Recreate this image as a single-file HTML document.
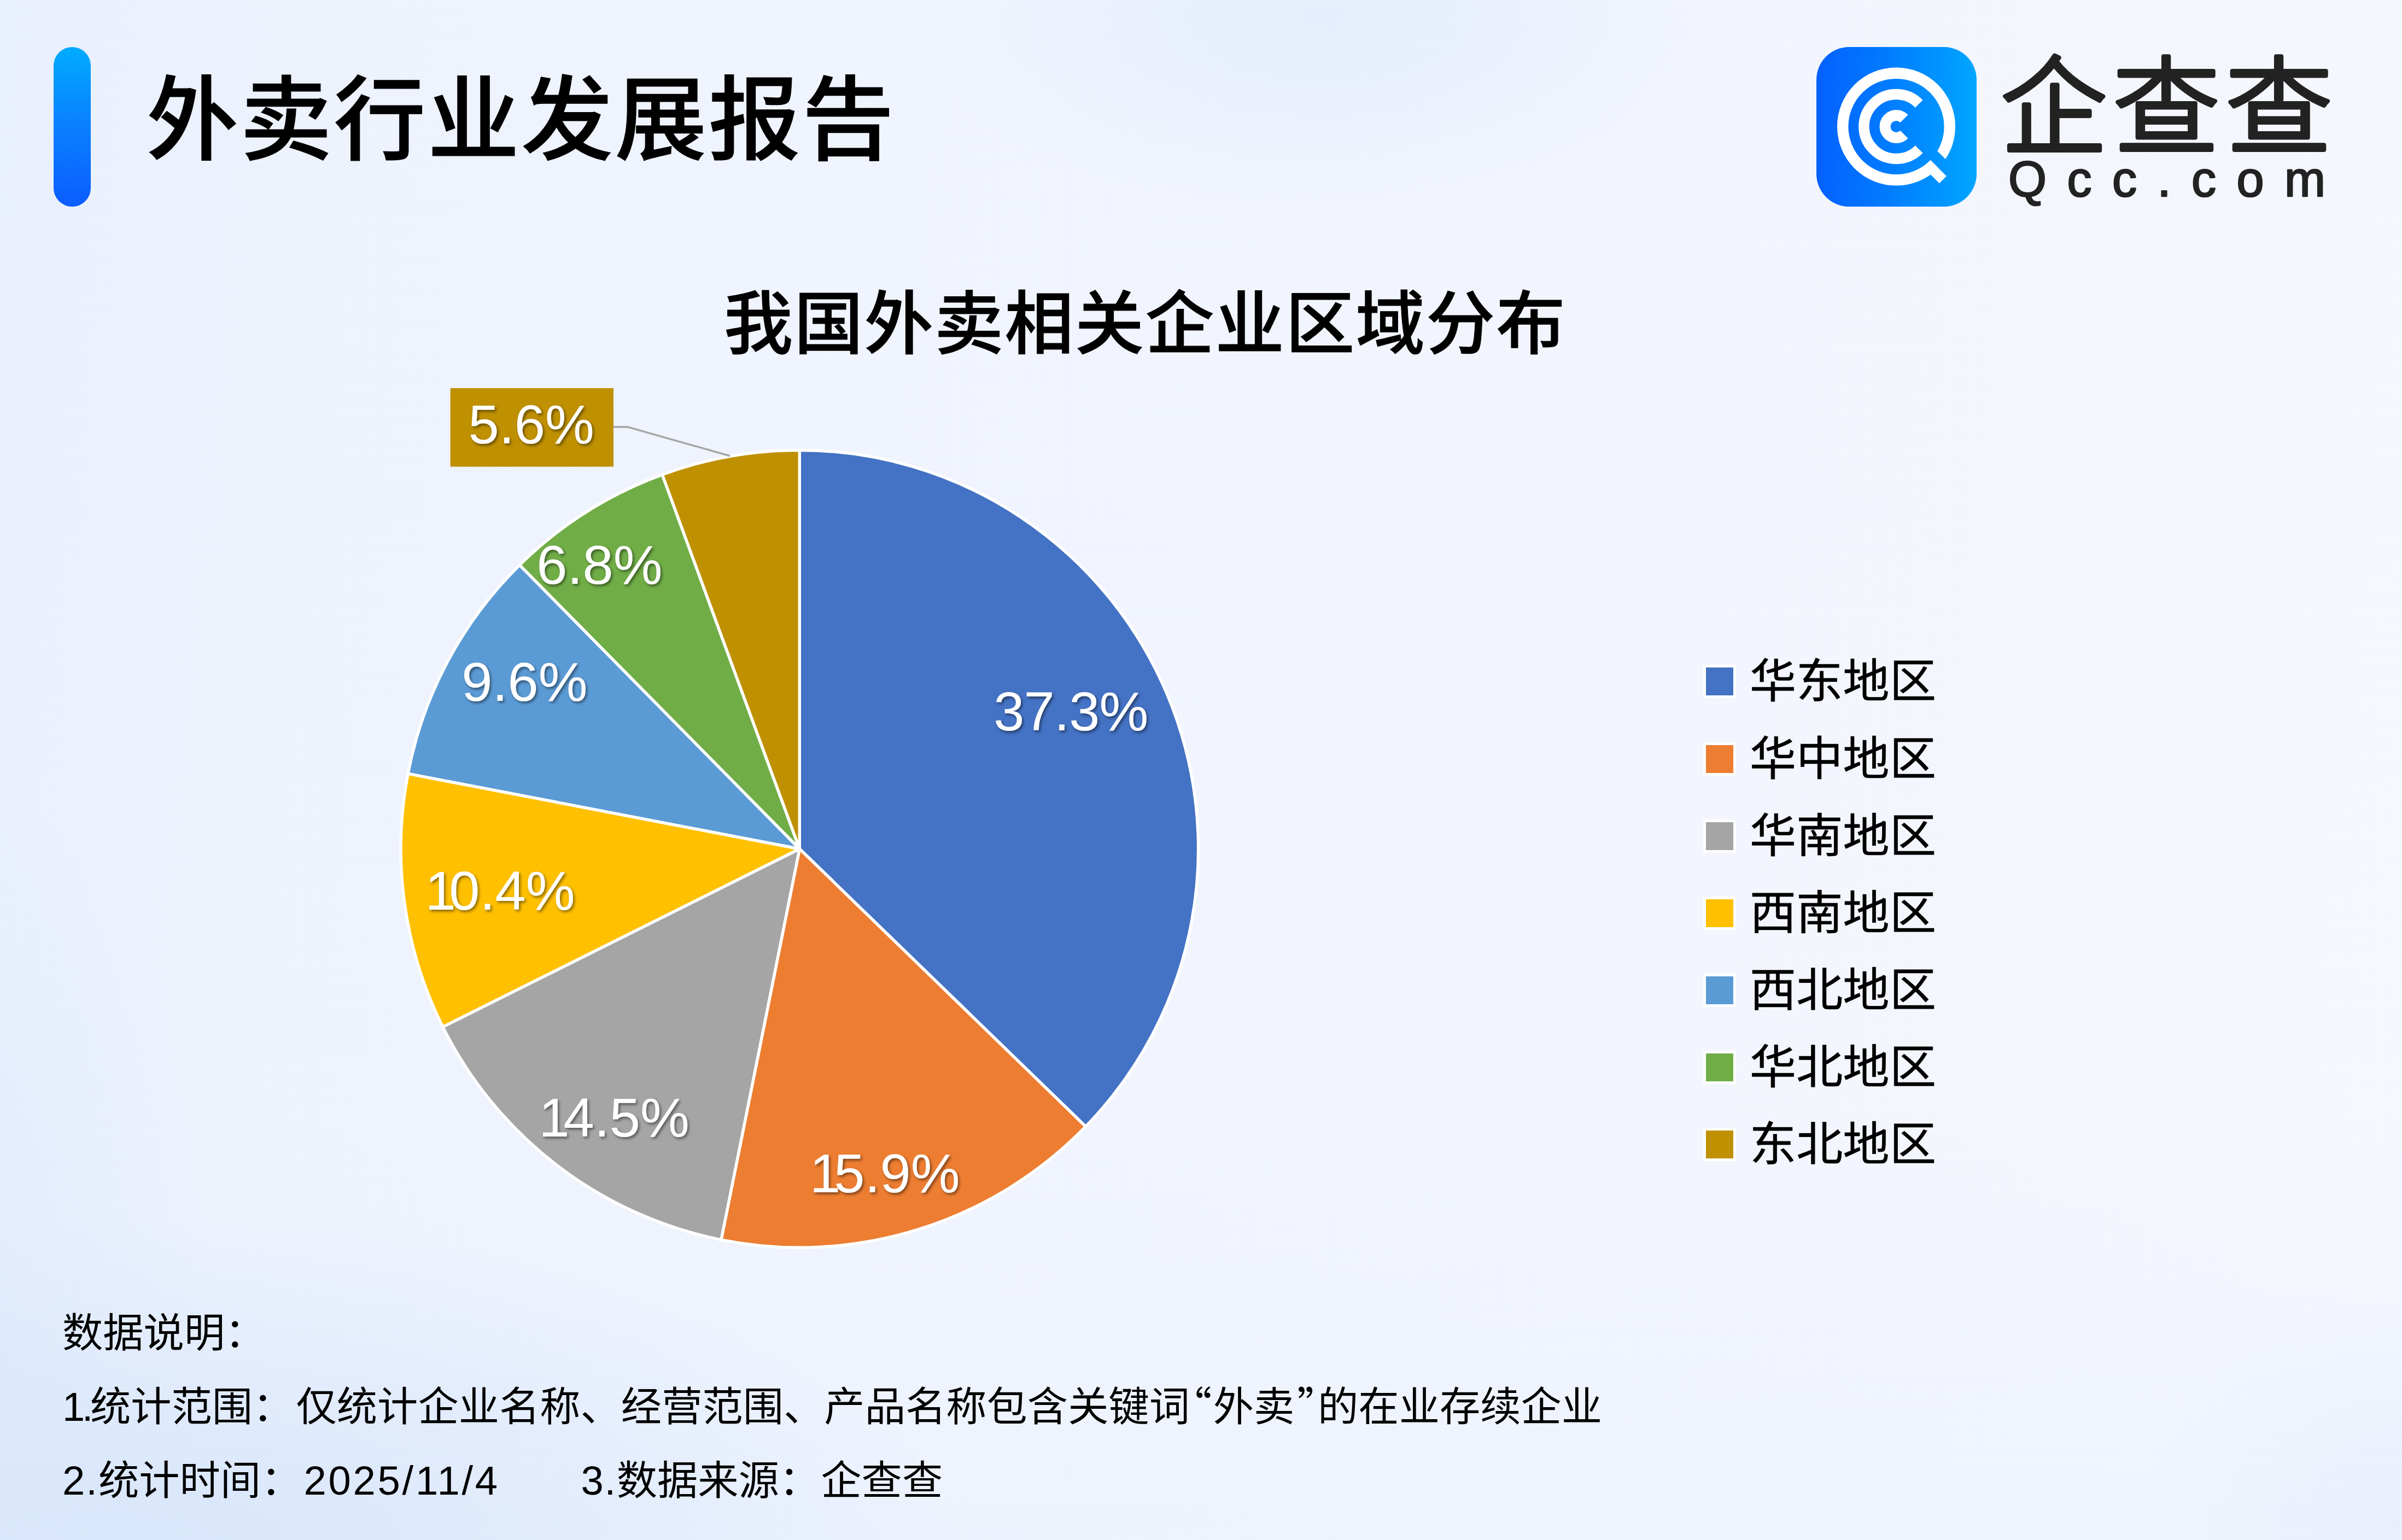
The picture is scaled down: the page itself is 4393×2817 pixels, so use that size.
<!DOCTYPE html>
<html lang="zh-CN">
<head>
<meta charset="utf-8">
<title>外卖行业发展报告</title>
<style>
html,body{margin:0;padding:0;}
body{width:4393px;height:2817px;overflow:hidden;position:relative;
  font-family:"Liberation Sans","Noto Sans CJK SC",sans-serif;color:#000;
  background:
    radial-gradient(ellipse 760px 360px at 2420px 30px, rgba(229,238,252,1) 0%, rgba(229,238,252,0.6) 45%, rgba(229,238,252,0) 100%),
    radial-gradient(ellipse 1500px 600px at 250px 2830px, rgba(216,230,251,1) 0%, rgba(216,230,251,0.55) 50%, rgba(216,230,251,0) 100%),
    radial-gradient(ellipse 500px 1100px at -100px 2500px, rgba(222,234,252,0.8) 0%, rgba(222,234,252,0) 100%),
    radial-gradient(ellipse 520px 420px at 4420px 2790px, rgba(232,239,252,0.95) 0%, rgba(232,239,252,0) 100%),
    linear-gradient(180deg, rgba(236,242,253,0) 72%, rgba(234,241,253,0.55) 100%),
    linear-gradient(96deg,#e9f0fd 0%,#edf2fd 12%,#f0f4fe 35%,#f2f5fe 60%,#f4f6fe 80%,#f6f8fe 100%);
}
.abs{position:absolute;white-space:nowrap;line-height:1;}
#bar{left:98px;top:86px;width:68px;height:292px;border-radius:34px;
  background:linear-gradient(180deg,#00acff 0%,#0a83ff 45%,#0b5cff 100%);}
#title{left:268px;top:137px;font-size:168px;font-weight:500;letter-spacing:3.3px;-webkit-text-stroke:1.2px #000;}
#logo{left:3322px;top:86px;width:293px;height:292px;}
#ctitle{left:1324px;top:531px;font-size:126px;font-weight:500;letter-spacing:2.4px;-webkit-text-stroke:1.1px #000;}
#chart{left:0;top:0;width:4393px;height:2817px;}
.lg{left:3120px;width:50px;height:51px;outline:5px solid #fff;}
.lt{left:3200px;font-size:85px;font-weight:400;letter-spacing:0.3px;-webkit-text-stroke:0.7px #000;}
.note{left:114px;font-size:74.3px;font-weight:400;}
.q{font-family:"Noto Sans CJK SC",sans-serif;line-height:0;}
.ql{margin-left:-34px;margin-right:2.4px;}
.qr{margin-left:5px;margin-right:-36.6px;}
</style>
</head>
<body>
<div id="bar" class="abs"></div>
<div id="title" class="abs">外卖行业发展报告</div>

<svg id="logo" class="abs" viewBox="0 0 293 292">
  <defs>
    <linearGradient id="lgd" x1="0" y1="0" x2="1" y2="0">
      <stop offset="0" stop-color="#0460ff"/><stop offset="0.45" stop-color="#007cff"/><stop offset="1" stop-color="#00a6ff"/>
    </linearGradient>
    <mask id="qm" maskUnits="userSpaceOnUse" x="0" y="0" width="293" height="292">
      <rect x="0" y="0" width="293" height="292" fill="#fff"/>
      <g transform="translate(146 145.5) rotate(45)"><rect x="60" y="-21.5" width="90" height="20.7" fill="#000"/></g>
    </mask>
  </defs>
  <rect x="0" y="0" width="293" height="292" rx="60" ry="60" fill="url(#lgd)"/>
  <g fill="none" stroke="#fff">
    <circle cx="146" cy="145.5" r="97.8" stroke-width="20.5" mask="url(#qm)"/>
    <path d="M187.7 103.8A59 59 0 1 0 187.7 187.2" stroke-width="19.5"/>
    <path d="M160.5 131A20.5 20.5 0 1 0 160.5 160" stroke-width="20"/>
  </g>
  <g transform="translate(146 145.5) rotate(45)"><rect x="88" y="-0.8" width="41" height="18.4" fill="#fff"/></g>
</svg>
<svg id="brandsvg" class="abs" style="left:3600px;top:60px;width:760px;height:340px" viewBox="0 0 760 340">
  <text x="59" y="206" font-family="'Liberation Sans','Noto Sans CJK SC',sans-serif" font-size="194" font-weight="300" letter-spacing="12" fill="#222" stroke="#222" stroke-width="8" stroke-linejoin="round" stroke-linecap="round">企查查</text>
  <text x="73" y="299.2" font-family="'Liberation Sans',sans-serif" font-size="90" letter-spacing="37.5" fill="#222" stroke="#222" stroke-width="2.6" stroke-linejoin="round">Qcc.com</text>
</svg>

<div id="ctitle" class="abs">我国外卖相关企业区域分布</div>

<svg id="chart" class="abs" viewBox="0 0 4393 2817">
  <defs>
    <filter id="sh" x="-20%" y="-20%" width="140%" height="160%">
      <feDropShadow dx="2.6" dy="3.2" stdDeviation="2.6" flood-color="#000" flood-opacity="0.48"/>
    </filter>
  </defs>
  <g stroke="#fff" stroke-width="5.4" stroke-linejoin="round">
<path d="M1462.3 1552.75L1462.3 823.5A729.25 729.25 0 0 1 1985.6 2060.7Z" fill="#4472C4"/>
<path d="M1462.3 1552.75L1985.6 2060.7A729.25 729.25 0 0 1 1319.0 2267.8Z" fill="#ED7D31"/>
<path d="M1462.3 1552.75L1319.0 2267.8A729.25 729.25 0 0 1 809.8 1878.4Z" fill="#A5A5A5"/>
<path d="M1462.3 1552.75L809.8 1878.4A729.25 729.25 0 0 1 746.2 1415.1Z" fill="#FFC000"/>
<path d="M1462.3 1552.75L746.2 1415.1A729.25 729.25 0 0 1 950.3 1033.5Z" fill="#5B9BD5"/>
<path d="M1462.3 1552.75L950.3 1033.5A729.25 729.25 0 0 1 1211.2 868.1Z" fill="#70AD47"/>
<path d="M1462.3 1552.75L1211.2 868.1A729.25 729.25 0 0 1 1462.3 823.5Z" fill="#BF9000"/>
  </g>
  <polyline points="1122,781 1148,781 1335,834" fill="none" stroke="#a6a6a6" stroke-width="3.4"/>
  <rect x="823.7" y="710" width="298.3" height="143.7" fill="#BF9000"/>
  <g font-family="'Liberation Sans',sans-serif" font-size="101" fill="#fff" filter="url(#sh)">
    <text x="856.6" y="810.5">5.6%</text>
    <text x="1817.2" y="1335.7" letter-spacing="-0.8">37.3%</text>
    <text x="981.3" y="1068.1">6.8%</text>
    <text x="844.3" y="1281.6">9.6%</text>
    <text x="777.6" y="1664.2">1<tspan x="821.3">0.4%</tspan></text>
    <text x="985.6" y="2078.9">1<tspan x="1030.6">4.5%</tspan></text>
    <text x="1481" y="2180.5">1<tspan x="1525.3">5.9%</tspan></text>
  </g>
</svg>
<div class="abs lg" style="top:1221.4px;background:#4472C4"></div><div class="abs lt" style="top:1204.4px">华东地区</div>
<div class="abs lg" style="top:1362.6px;background:#ED7D31"></div><div class="abs lt" style="top:1345.6px">华中地区</div>
<div class="abs lg" style="top:1503.7px;background:#A5A5A5"></div><div class="abs lt" style="top:1486.7px">华南地区</div>
<div class="abs lg" style="top:1644.9px;background:#FFC000"></div><div class="abs lt" style="top:1627.9px">西南地区</div>
<div class="abs lg" style="top:1786.0px;background:#5B9BD5"></div><div class="abs lt" style="top:1769.0px">西北地区</div>
<div class="abs lg" style="top:1927.2px;background:#70AD47"></div><div class="abs lt" style="top:1910.2px">华北地区</div>
<div class="abs lg" style="top:2068.3px;background:#BF9000"></div><div class="abs lt" style="top:2051.3px">东北地区</div>

<div class="abs note" style="top:2402px">数据说明：</div>
<div class="abs note" style="top:2537px"><span style="letter-spacing:-5.5px">1.</span>统计范围：<span style="margin-left:5px">仅</span>统计企业名称、经营范围、产品名称包含关键词<span class="q ql">“</span>外卖<span class="q qr">”</span>的在业存续企业</div>
<div class="abs note" style="top:2672px"><span style="letter-spacing:2px">2.</span>统计时间：<span style="letter-spacing:3.7px;margin-left:4px">2025/11/4</span>　　<span style="letter-spacing:1.7px">3.</span>数据来源：<span style="margin-left:2px">企</span>查查</div>
</body>
</html>
